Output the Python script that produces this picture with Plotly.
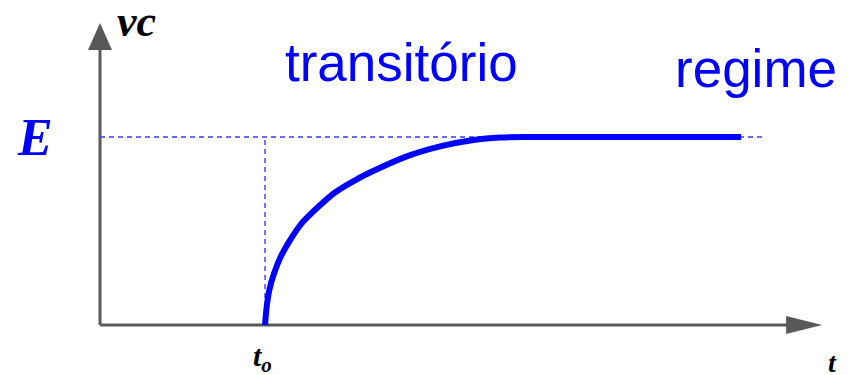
import plotly.graph_objects as go

# ---- data ----
t_curve = [1.000, 1.010, 1.026, 1.055, 1.095, 1.152, 1.222, 1.323, 1.424, 1.556,
           1.665, 1.859, 2.061, 2.263, 2.424, 2.600, 3.885]
vc_curve = [0.000, 0.097, 0.186, 0.275, 0.363, 0.452, 0.541, 0.629, 0.705, 0.775,
            0.823, 0.897, 0.950, 0.984, 0.997, 1.000, 1.000]
E_level = 1.0
t0 = 1.0
dash_end = 4.03
x_axis_end = 4.376
y_axis_end = 1.606
x_range = [-0.606, 4.545]
y_range = [-0.266, 1.729]

BLUE = "#0000FF"
GRAY = "#595959"

fig = go.Figure()

# dashed guide lines
fig.add_trace(go.Scatter(x=[0, dash_end], y=[E_level, E_level], mode="lines",
                         line=dict(color="#3a3aff", width=1.4, dash="5px,4px"),
                         hoverinfo="skip", showlegend=False))
fig.add_trace(go.Scatter(x=[t0, t0], y=[0, E_level], mode="lines",
                         line=dict(color="#3a3aff", width=1.4, dash="5px,4px"),
                         hoverinfo="skip", showlegend=False))

# axes as shapes
fig.add_shape(type="line", x0=0, y0=0, x1=x_axis_end - 0.15, y1=0,
              line=dict(color=GRAY, width=3), layer="below")
fig.add_shape(type="line", x0=0, y0=0, x1=0, y1=y_axis_end - 0.1,
              line=dict(color=GRAY, width=3), layer="below")
fig.add_shape(type="path", xsizemode="pixel", ysizemode="pixel",
              xanchor=x_axis_end, yanchor=0,
              path="M0,0 L-36,9 L-36,-9 Z", fillcolor=GRAY, line=dict(width=0))
fig.add_shape(type="path", xsizemode="pixel", ysizemode="pixel",
              xanchor=0, yanchor=y_axis_end,
              path="M0,0 L-12,-27 L12,-27 Z", fillcolor=GRAY, line=dict(width=0))

# response curve
fig.add_trace(go.Scatter(x=t_curve, y=vc_curve, mode="lines",
                         line=dict(color=BLUE, width=6, shape="spline", smoothing=0.8),
                         hoverinfo="skip", showlegend=False))

serif = "Liberation Serif"
sans = "Liberation Sans"
anns = [
    dict(text="<b><i>vc</i></b>", x=136 / 850, y=1 - 22 / 375, xref="paper", yref="paper",
         font=dict(family=serif, size=44, color="black")),
    dict(text="<b><i>E</i></b>", x=35 / 850, y=E_level, xref="paper", yref="y",
         font=dict(family=serif, size=52, color=BLUE)),
    dict(text="<b><i>t<sub>o</sub></i></b>", x=t0 - 0.015, y=1 - 358 / 375, xref="x", yref="paper",
         font=dict(family=serif, size=30, color="black")),
    dict(text="<b><i>t</i></b>", x=832 / 850, y=1 - 362 / 375, xref="paper", yref="paper",
         font=dict(family=serif, size=28, color="black")),
    dict(text="transitório", x=401 / 850, y=1 - 62 / 375, xref="paper", yref="paper",
         font=dict(family=sans, size=53, color=BLUE)),
    dict(text="regime", x=756 / 850, y=1 - 68 / 375, xref="paper", yref="paper",
         font=dict(family=sans, size=53, color=BLUE)),
]
for a in anns:
    a.update(showarrow=False, xanchor="center", yanchor="middle")
    fig.add_annotation(**a)

fig.update_layout(
    width=850, height=375,
    margin=dict(l=0, r=0, t=0, b=0),
    paper_bgcolor="white", plot_bgcolor="white",
    xaxis=dict(range=x_range, visible=False, fixedrange=True),
    yaxis=dict(range=y_range, visible=False, fixedrange=True),
    showlegend=False,
)

fig.write_html("out.html", config={"displayModeBar": False},
               post_script="document.body.style.margin='0';document.body.style.overflow='hidden';")
